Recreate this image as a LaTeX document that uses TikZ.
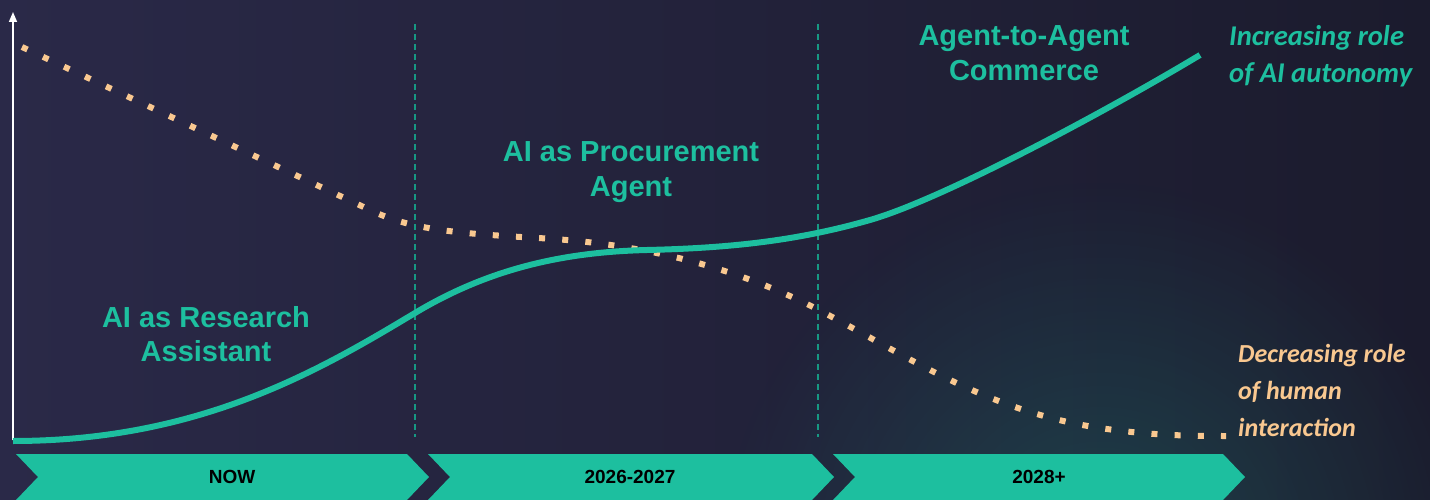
\documentclass[tikz,border=0pt]{standalone}
\usepackage{fontspec}
\setmainfont{Liberation Sans}
\newfontfamily\notefont{Carlito}
\usetikzlibrary{arrows.meta,fadings}
\tikzfading[name=glowfade, inner color=transparent!0, outer color=transparent!100]
\definecolor{bgleft}{HTML}{2A2948}
\definecolor{bgright}{HTML}{1B1B2D}
\definecolor{aiteal}{HTML}{1DBF9F}
\definecolor{peach}{HTML}{F9C890}
\definecolor{gridteal}{HTML}{179883}
\tikzset{
  phase/.style={text=aiteal, font=\bfseries\fontsize{29}{34.5}\selectfont, align=center, inner sep=0pt},
  trend/.style={font=\notefont\bfseries\itshape\fontsize{26}{37}\selectfont, align=left, anchor=north west, inner sep=0pt},
  stage/.style={font=\bfseries\fontsize{19}{22}\selectfont, text=black},
  divider/.style={gridteal, line width=1.3pt, dash pattern=on 6pt off 4pt},
  chevron/.style={fill=aiteal},
}
\begin{document}
\begin{tikzpicture}[x=1pt,y=-1pt]
\useasboundingbox (0,0) rectangle (1430,500);
\shade[left color=bgleft, right color=bgright] (0,0) rectangle (1430,500);
\fill[aiteal, opacity=0.22, path fading=glowfade] (1100,560) circle (380);
\draw[divider] (415,24) -- (415,437);
\draw[divider] (818,24) -- (818,437);
\coordinate (origin) at (13,440);
\coordinate (ytop) at (13,12);
\draw[white, line width=1.5pt, -{Triangle[width=8pt,length=10pt]}] (origin) -- (ytop);
% human interaction, falling
\draw[peach, line width=6pt, dash pattern=on 6pt off 17.2pt] (22,47) -- (370,210)
  .. controls (410,229) and (450,233) .. (538,238)
  .. controls (600,241.5) and (700,252) .. (807,304)
  .. controls (900,350.5) and (980,410) .. (1100,428)
  .. controls (1150,435.5) and (1190,436) .. (1226,436);
% AI autonomy, rising
\draw[aiteal, line width=6pt] (13,441)
  .. controls (200,441) and (320,370) .. (415,313)
  .. controls (490,268) and (565,252) .. (647,250)
  .. controls (734,248) and (800,240) .. (870,220)
  .. controls (940,200) and (1100,115) .. (1200,55);
\foreach \l/\r in {16/407, 428/812, 833/1223}
  \fill[chevron] (\l,454) -- (\r,454) -- (\r+22,477) -- (\r,500) -- (\l,500) -- (\l+22,477) -- cycle;
\node[stage] (now) at (232,477) {NOW};
\node[stage] (mid) at (630,477) {2026-2027};
\node[stage] (late) at (1039,477) {2028+};
\node[phase] (research) at (206,334) {AI as Research\\Assistant};
\node[phase] (procure) at (631,172) {AI as Procurement\\Agent};
\node[phase] (commerce) at (1024,53) {Agent-to-Agent\\Commerce};
\node[trend, text=aiteal, font=\notefont\bfseries\itshape\fontsize{28.6}{37}\selectfont] (autonomy) at (1229,25) {Increasing role\\of AI autonomy};
\node[trend, text=peach] (human) at (1238,344) {Decreasing role\\of human\\interaction};
\end{tikzpicture}
\end{document}
